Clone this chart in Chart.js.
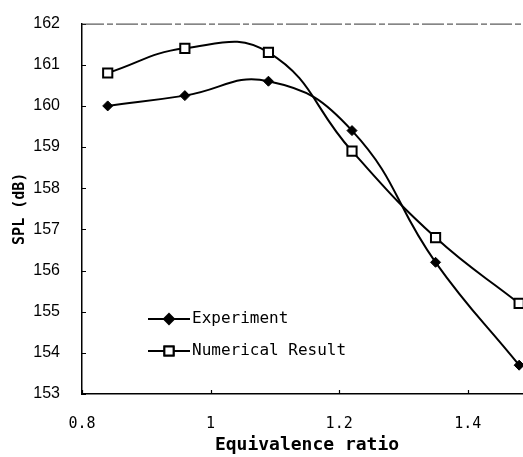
<!DOCTYPE html>
<html>
<head>
<meta charset="utf-8">
<title>SPL vs Equivalence ratio</title>
<script src="https://cdn.jsdelivr.net/npm/chart.js@4.4.1/dist/chart.umd.min.js"></script>
<style>
    html, body { margin: 0; padding: 0; background: #fff; overflow: hidden; }
    #wrap { width: 545px; height: 457px; }
</style>
</head>
<body>
<div id="wrap"><canvas id="splChart" width="545" height="457"></canvas></div>
<script>
// Data
const equivalenceRatio = [0.84, 0.96, 1.09, 1.22, 1.35, 1.48];
const experimentSpl = [160.0, 160.25, 160.6, 159.4, 156.2, 153.7];
const numericalSpl = [160.8, 161.4, 161.3, 158.9, 156.8, 155.2];
const seriesLabels = ['Experiment', 'Numerical Result'];
const xTicks = [0.8, 1, 1.2, 1.4];
const yTicks = [153, 154, 155, 156, 157, 158, 159, 160, 161, 162];

const MONO = '"DejaVu Sans Mono", monospace';
const SANS = '"Liberation Sans", Arial, sans-serif';

document.addEventListener('DOMContentLoaded', function() {
    initializeChart();
});

function toPoints(xs, ys) {
    return xs.map((x, i) => ({ x: x, y: ys[i] }));
}

// small tick marks pointing into the plot, plus the broken top frame
const frameTicks = {
    id: 'frameTicks',
    afterDraw(chart) {
        const ctx = chart.ctx;
        const area = chart.chartArea;
        const xs = chart.scales.x;
        const ys = chart.scales.y;
        ctx.save();
        ctx.strokeStyle = '#000';
        ctx.lineWidth = 1.2;
        ctx.beginPath();
        ys.ticks.forEach(t => {
            const py = Math.round(ys.getPixelForValue(t.value)) + 0.5;
            ctx.moveTo(area.left, py);
            ctx.lineTo(area.left + 4, py);
        });
        xs.ticks.forEach(t => {
            const px = Math.round(xs.getPixelForValue(t.value)) + 0.5;
            ctx.moveTo(px, area.bottom);
            ctx.lineTo(px, area.bottom - 4);
        });
        ctx.stroke();

        ctx.strokeStyle = '#333';
        ctx.lineWidth = 1;
        ctx.setLineDash([22, 3, 6, 3]);
        ctx.beginPath();
        ctx.moveTo(area.left, area.top + 0.5);
        ctx.lineTo(chart.width, area.top + 0.5);
        ctx.stroke();
        ctx.restore();
    }
};

// legend inside the plot: line sample with marker, then label
const insideLegend = {
    id: 'insideLegend',
    afterDraw(chart) {
        const ctx = chart.ctx;
        const left = 148, lineLen = 42, top = 319, gap = 32;
        ctx.save();
        chart.data.datasets.forEach((ds, i) => {
            const y = top + i * gap;
            ctx.strokeStyle = ds.borderColor;
            ctx.lineWidth = ds.borderWidth;
            ctx.beginPath();
            ctx.moveTo(left, y);
            ctx.lineTo(left + lineLen, y);
            ctx.stroke();
            Chart.helpers.drawPoint(ctx, {
                pointStyle: ds.pointStyle,
                radius: ds.pointRadius,
                borderWidth: ds.pointBorderWidth,
                rotation: 0
            }, left + lineLen / 2, y);
            ctx.fillStyle = ds.pointBackgroundColor;
            ctx.strokeStyle = ds.pointBorderColor;
            ctx.lineWidth = ds.pointBorderWidth;
            ctx.fill();
            ctx.stroke();
            ctx.fillStyle = '#000';
            ctx.font = '16px ' + MONO;
            ctx.textBaseline = 'middle';
            ctx.fillText(ds.label, left + lineLen + 2, y);
        });
        ctx.restore();
    }
};

function initializeChart() {
    const ctx = document.getElementById('splChart').getContext('2d');
    new Chart(ctx, {
        type: 'line',
        data: {
            datasets: [{
                label: seriesLabels[0],
                data: toPoints(equivalenceRatio, experimentSpl),
                borderColor: '#000',
                borderWidth: 2,
                tension: 0.45,
                pointStyle: 'rectRot',
                pointRadius: 5,
                pointBackgroundColor: '#000',
                pointBorderColor: '#000',
                pointBorderWidth: 1,
                clip: false
            }, {
                label: seriesLabels[1],
                data: toPoints(equivalenceRatio, numericalSpl),
                borderColor: '#000',
                borderWidth: 2,
                tension: 0.45,
                pointStyle: 'rect',
                pointRadius: 6.5,
                pointBackgroundColor: '#fff',
                pointBorderColor: '#000',
                pointBorderWidth: 2,
                clip: false
            }]
        },
        options: {
            responsive: false,
            animation: false,
            events: [],
            layout: { padding: { top: 14, right: 13, left: 0, bottom: 0 } },
            plugins: {
                legend: { display: false },
                tooltip: { enabled: false }
            },
            scales: {
                x: {
                    type: 'linear',
                    min: 0.8,
                    max: 1.5,
                    afterFit: scale => { scale.height = 63; },
                    afterBuildTicks: scale => { scale.ticks = xTicks.map(v => ({ value: v })); },
                    grid: { display: false },
                    border: { display: true, color: '#000', width: 1.5 },
                    ticks: {
                        padding: 13,
                        color: '#000',
                        font: { family: MONO, size: 15 },
                        callback: v => String(v)
                    },
                    title: {
                        display: true,
                        text: 'Equivalence ratio',
                        color: '#000',
                        font: { family: MONO, size: 18, weight: 'bold' },
                        padding: { top: 0, bottom: 1 }
                    }
                },
                y: {
                    min: 153,
                    max: 162,
                    afterFit: scale => { scale.width = 82; },
                    afterBuildTicks: scale => { scale.ticks = yTicks.map(v => ({ value: v })); },
                    grid: { display: false },
                    border: { display: true, color: '#000', width: 1.5 },
                    ticks: {
                        padding: 14,
                        color: '#000',
                        font: { family: SANS, size: 16 }
                    },
                    title: {
                        display: true,
                        text: 'SPL (dB)',
                        color: '#000',
                        font: { family: MONO, size: 15, weight: 'bold' },
                        padding: { top: 11, bottom: 0 }
                    }
                }
            }
        },
        plugins: [frameTicks, insideLegend]
    });
}
</script>
</body>
</html>
